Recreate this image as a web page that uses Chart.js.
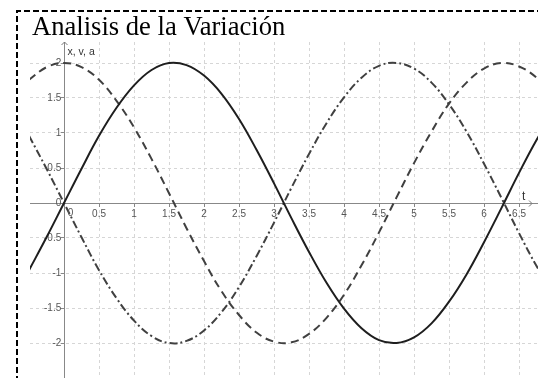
<!DOCTYPE html>
<html>
<head>
<meta charset="utf-8">
<script src="https://cdn.jsdelivr.net/npm/chart.js@4/dist/chart.umd.min.js"></script>
<style>
  html, body { margin: 0; padding: 0; background: #fff; overflow: hidden; }
  #wrap { position: relative; width: 538px; height: 378px; }
</style>
</head>
<body>
<div id="wrap"><canvas id="c" width="538" height="378"></canvas></div>
<script>
// Sample times t and the three curves: position x, velocity v, acceleration a
const tValues = [-0.5, -0.25, 0, 0.25, 0.5, 0.75, 1.0, 1.25, 1.5, 1.75, 2.0, 2.25, 2.5, 2.75, 3.0, 3.25,
                 3.5, 3.75, 4.0, 4.25, 4.5, 4.75, 5.0, 5.25, 5.5, 5.75, 6.0, 6.25, 6.5, 6.75, 7.0];
const posX = [-0.96, -0.49, 0, 0.49, 0.96, 1.36, 1.68, 1.90, 2.00, 1.97, 1.82, 1.56, 1.20, 0.76, 0.28, -0.22,
              -0.70, -1.14, -1.51, -1.79, -1.96, -2.00, -1.92, -1.72, -1.41, -1.02, -0.56, -0.07, 0.43, 0.90, 1.31];
const velV = [1.76, 1.94, 2.00, 1.94, 1.76, 1.46, 1.08, 0.63, 0.14, -0.36, -0.83, -1.26, -1.60, -1.85, -1.98, -1.99,
              -1.87, -1.64, -1.31, -0.89, -0.42, 0.08, 0.57, 1.02, 1.42, 1.72, 1.92, 2.00, 1.95, 1.79, 1.51];
const accA = [0.96, 0.49, 0, -0.49, -0.96, -1.36, -1.68, -1.90, -2.00, -1.97, -1.82, -1.56, -1.20, -0.76, -0.28, 0.22,
              0.70, 1.14, 1.51, 1.79, 1.96, 2.00, 1.92, 1.72, 1.41, 1.02, 0.56, 0.07, -0.43, -0.90, -1.31];

// Axis ranges and tick spacing
const tRange = [-0.486, 6.771];
const yRange = [-2.5, 2.3];
const tickStep = 0.5;

const titleText = 'Analisis de la Variación';
const yAxisName = 'x, v, a';
const xAxisName = 't';

const toPoints = (ys) => tValues.map((t, i) => ({ x: t, y: ys[i] }));

const labelFont = { family: 'Liberation Sans, Arial, sans-serif', size: 10 };

// Frame, title, axis arrows and axis names
const decorations = {
  id: 'decorations',
  beforeDraw(chart) {
    const ctx = chart.ctx;
    ctx.save();
    ctx.strokeStyle = '#000';
    ctx.lineWidth = 2;
    ctx.setLineDash([6, 3]);
    ctx.beginPath();
    ctx.moveTo(17, 400);
    ctx.lineTo(17, 11);
    ctx.lineTo(560, 11);
    ctx.stroke();
    ctx.restore();
  },
  afterDatasetsDraw(chart) {
    const ctx = chart.ctx;
    const xs = chart.scales.x, ys = chart.scales.y;
    const ox = Math.round(xs.getPixelForValue(0)) + 0.5;
    const oy = Math.round(ys.getPixelForValue(0)) + 0.5;
    const area = chart.chartArea;
    ctx.save();
    // arrow heads
    ctx.strokeStyle = '#777';
    ctx.lineWidth = 1;
    ctx.setLineDash([]);
    ctx.beginPath();
    ctx.moveTo(ox - 3, area.top + 3);
    ctx.lineTo(ox, area.top);
    ctx.lineTo(ox + 3, area.top + 3);
    ctx.moveTo(area.right - 9, oy - 3);
    ctx.lineTo(area.right - 6, oy);
    ctx.lineTo(area.right - 9, oy + 3);
    ctx.stroke();
    // axis names
    ctx.fillStyle = '#333';
    ctx.textBaseline = 'alphabetic';
    ctx.textAlign = 'left';
    ctx.font = '10.5px "Liberation Sans", Arial, sans-serif';
    ctx.fillText(yAxisName, ox + 3, 55);
    ctx.font = '12px "Liberation Sans", Arial, sans-serif';
    ctx.fillText(xAxisName, 522, 200);
    // origin label on the t axis, set slightly right of the vertical axis
    ctx.fillStyle = '#555';
    ctx.font = '10px "Liberation Sans", Arial, sans-serif';
    ctx.textAlign = 'center';
    ctx.textBaseline = 'middle';
    ctx.fillText('0', ox + 6, oy + 10);
    // title
    ctx.fillStyle = '#000';
    ctx.textAlign = 'left';
    ctx.textBaseline = 'alphabetic';
    ctx.font = '26.6px "Liberation Serif", "Times New Roman", serif';
    ctx.fillText(titleText, 32, 35);
    ctx.restore();
  }
};

const axisCommon = {
  type: 'linear',
  grid: { color: '#d6d6d6', lineWidth: 1, tickLength: 3, tickColor: '#888', drawTicks: true },
  border: { display: true, color: '#888', width: 1, dash: [3, 3] }
};

new Chart(document.getElementById('c'), {
  type: 'scatter',
  data: {
    datasets: [
      { label: 'x', data: toPoints(posX), showLine: true, borderColor: '#1e1e1e', borderWidth: 2,
        pointRadius: 0, tension: 0.4, fill: false },
      { label: 'v', data: toPoints(velV), showLine: true, borderColor: '#404040', borderWidth: 2,
        borderDash: [8, 5], pointRadius: 0, tension: 0.4, fill: false },
      { label: 'a', data: toPoints(accA), showLine: true, borderColor: '#404040', borderWidth: 2,
        borderDash: [8, 3, 2, 3], pointRadius: 0, tension: 0.4, fill: false }
    ]
  },
  options: {
    responsive: false,
    animation: false,
    devicePixelRatio: 1,
    layout: { padding: { left: 30, top: 42, right: 0, bottom: 0 } },
    plugins: { legend: { display: false }, tooltip: { enabled: false }, title: { display: false } },
    scales: {
      x: Object.assign({}, axisCommon, {
        min: tRange[0], max: tRange[1],
        position: { y: 0 },
        ticks: { stepSize: tickStep, includeBounds: false, maxTicksLimit: 30, autoSkip: false, maxRotation: 0,
                 color: '#555', font: labelFont, padding: 2,
                 callback: (v) => (v === 0 ? '' : String(v)) },
        afterFit(s) { s.paddingLeft = 0; s.paddingRight = 0; }
      }),
      y: Object.assign({}, axisCommon, {
        min: yRange[0], max: yRange[1],
        position: { x: 0 },
        // trailing space keeps the right-aligned labels clear of the tick marks
        ticks: { stepSize: tickStep, includeBounds: false, maxTicksLimit: 30, autoSkip: false,
                 color: '#555', font: labelFont, padding: 6,
                 callback: (v) => (v <= -2.5 ? '' : String(v) + ' ') },
        afterFit(s) { s.paddingTop = 0; s.paddingBottom = 0; }
      })
    }
  },
  plugins: [decorations]
});
</script>
</body>
</html>
